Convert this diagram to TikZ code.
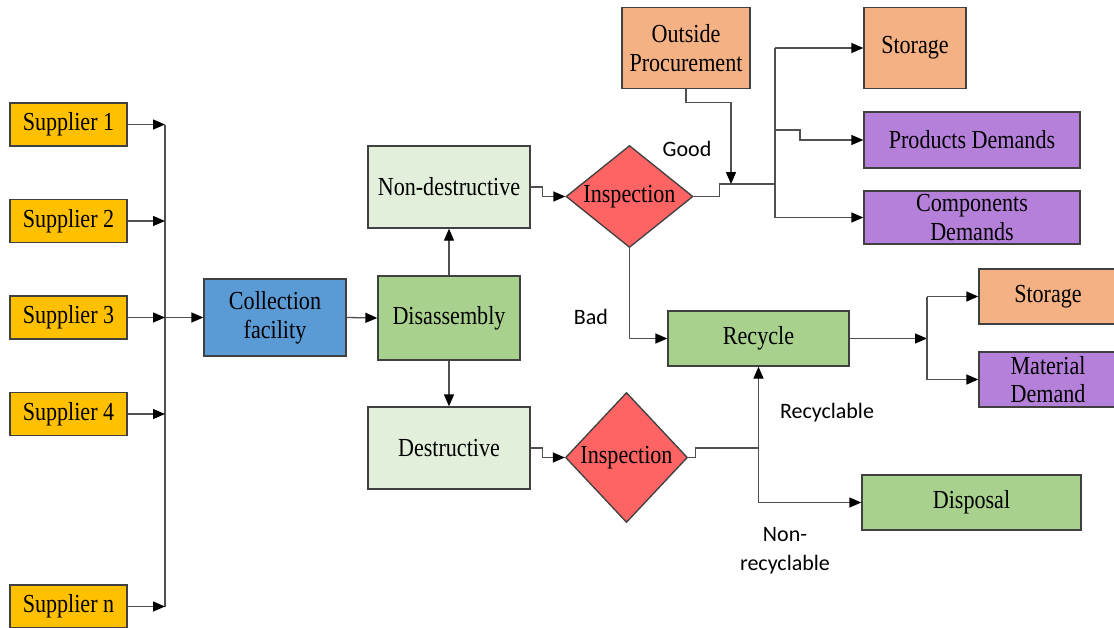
\documentclass[tikz,border=0pt]{standalone}
\usepackage{fontspec}
\setmainfont[FakeStretch=0.85]{Liberation Serif}
\newfontfamily\lblfont{Carlito}
\usetikzlibrary{shapes.geometric,arrows.meta}

\definecolor{supplyclr}{HTML}{FFC000}
\definecolor{collectclr}{HTML}{5B9BD5}
\definecolor{greenclr}{HTML}{A9D18E}
\definecolor{paleclr}{HTML}{E2EFDA}
\definecolor{inspclr}{HTML}{FF6464}
\definecolor{orangeclr}{HTML}{F4B183}
\definecolor{purpleclr}{HTML}{B580DA}
\definecolor{edgeclr}{HTML}{404040}
\definecolor{lineclr}{HTML}{505050}

\tikzset{every picture/.style={line width=0.75pt}}
\tikzset{
	box/.style={draw=edgeclr, line width=1pt, inner sep=2pt, align=center, font=\fontsize{19.5}{21.5}\selectfont},
	supbox/.style={box, fill=supplyclr, minimum width=87.75pt, minimum height=32.25pt},
	inspect/.style={box, diamond, inner sep=0pt, fill=inspclr},
	flow/.style={draw=lineclr, line width=1pt, -{Triangle[length=9pt,width=7.5pt,color=black]}},
	link/.style={draw=lineclr, line width=1pt},
	lbl/.style={font=\lblfont\fontsize{16.5}{21.75}\selectfont, align=center}
}

\begin{document}
\begin{tikzpicture}[x=0.75pt,y=0.75pt,yscale=-1,xscale=1]
	\useasboundingbox (0,0) rectangle (1114,628);

	%Shape: Rectangle [suppliers]
	\node[supbox] (sup1) at (68.5,124.5) {Supplier 1};
	\node[supbox] (sup2) at (68.5,221) {Supplier 2};
	\node[supbox] (sup3) at (68.5,317.5) {Supplier 3};
	\node[supbox] (sup4) at (68.5,414) {Supplier 4};
	\node[supbox] (supn) at (68.5,606.5) {Supplier n};
	%Shape: Rectangle [collection, disassembly]
	\node[box, fill=collectclr, minimum width=106.5pt, minimum height=57.75pt] (coll) at (275,317.5) {Collection\\facility};
	\node[box, fill=greenclr, minimum width=106.5pt, minimum height=63pt] (disasm) at (449,318) {Disassembly};
	\node[box, fill=paleclr, minimum width=121.5pt, minimum height=61.5pt] (nondes) at (449,187) {Non-destructive};
	\node[box, fill=paleclr, minimum width=121.5pt, minimum height=61.5pt] (des) at (449,448) {Destructive};
	%Shape: Diamond
	\node[inspect, aspect=1.25, minimum width=95.25pt, minimum height=76.5pt] (insp1) at (629.5,196.5) {Inspection};
	\node[inspect, aspect=0.94, minimum width=91.5pt, minimum height=97.5pt] (insp2) at (626.5,457.5) {Inspection};
	%Shape: Rectangle [outputs]
	\node[box, fill=orangeclr, minimum width=96pt, minimum height=60.75pt] (outproc) at (686,48) {Outside\\Procurement};
	\node[box, fill=orangeclr, minimum width=76.5pt, minimum height=60.75pt] (store1) at (915,48) {Storage};
	\node[box, fill=purpleclr, minimum width=162pt, minimum height=42pt] (proddem) at (972,140) {Products Demands};
	\node[box, fill=purpleclr, minimum width=162pt, minimum height=39.75pt] (compdem) at (972,217.5) {Components\\Demands};
	\node[box, fill=greenclr, minimum width=135.75pt, minimum height=41.25pt] (recyc) at (758.5,338.5) {Recycle};
	\node[box, fill=greenclr, minimum width=164.25pt, minimum height=41.25pt] (dispo) at (971.5,502.5) {Disposal};
	\node[box, fill=orangeclr, minimum width=103.5pt, minimum height=41.25pt] (store2) at (1048,296.5) {Storage};
	\node[box, fill=purpleclr, minimum width=103.5pt, minimum height=41.25pt] (matdem) at (1048,379.5) {Material\\Demand};

	%Straight Lines [supplier bus]
	\coordinate (bus) at (165,124.5);
	\draw[link] (bus) -- (bus |- supn.east);
	\draw[flow] (sup1.east) -- (bus |- sup1.east);
	\draw[flow] (sup2.east) -- (bus |- sup2.east);
	\draw[flow] (sup3.east) -- (bus |- sup3.east);
	\draw[flow] (sup4.east) -- (bus |- sup4.east);
	\draw[flow] (supn.east) -- (bus |- supn.east);
	\draw[flow] (bus |- coll.west) -- (coll.west);
	\draw[flow] (coll.east) -- (disasm.west);
	\draw[flow] (disasm.north) -- (nondes.south);
	\draw[flow] (disasm.south) -- (des.north);
	\draw[flow] (nondes.east) -- ++(12,0) |- (insp1.west);
	\draw[flow] (des.east) -- ++(12,0) |- (insp2.west);

	%Straight Lines [good branch]
	\coordinate (gbus) at (775,184);
	\coordinate (opin) at (731,184);
	\coordinate (pdjog) at (775,130);
	\draw[link] (insp1.east) -- ++(26,0) |- (gbus);
	\draw[flow] (outproc.south) -- ++(0,13.5) -| (opin);
	\draw[link] (gbus |- store1.west) -- (gbus |- compdem.west);
	\draw[flow] (gbus |- store1.west) -- (store1.west);
	\draw[flow] (pdjog) -- ++(25,0) |- (proddem.west);
	\draw[flow] (gbus |- compdem.west) -- (compdem.west);
	\draw[flow] (insp1.south) |- (recyc.west);

	%Straight Lines [recycle branch]
	\coordinate (rbus) at (758.5,448);
	\coordinate (rfork) at (927,338.5);
	\draw[link] (insp2.east) -- ++(7,0) |- (rbus);
	\draw[flow] (rbus) -- (recyc.south);
	\draw[flow] (rbus) |- (dispo.west);
	\draw[flow] (recyc.east) -- (rfork);
	\draw[link] (rfork |- store2.west) -- (rfork |- matdem.west);
	\draw[flow] (rfork |- store2.west) -- (store2.west);
	\draw[flow] (rfork |- matdem.west) -- (matdem.west);

	% Text Node
	\node[lbl] (good) at (687,149) {Good};
	% Text Node
	\node[lbl] (bad) at (591,317) {Bad};
	% Text Node
	\node[lbl] (recyl) at (827,413) {Recyclable};
	% Text Node
	\node[lbl] (nonrecyl) at (785,551) {Non-\\recyclable};
\end{tikzpicture}
\end{document}
